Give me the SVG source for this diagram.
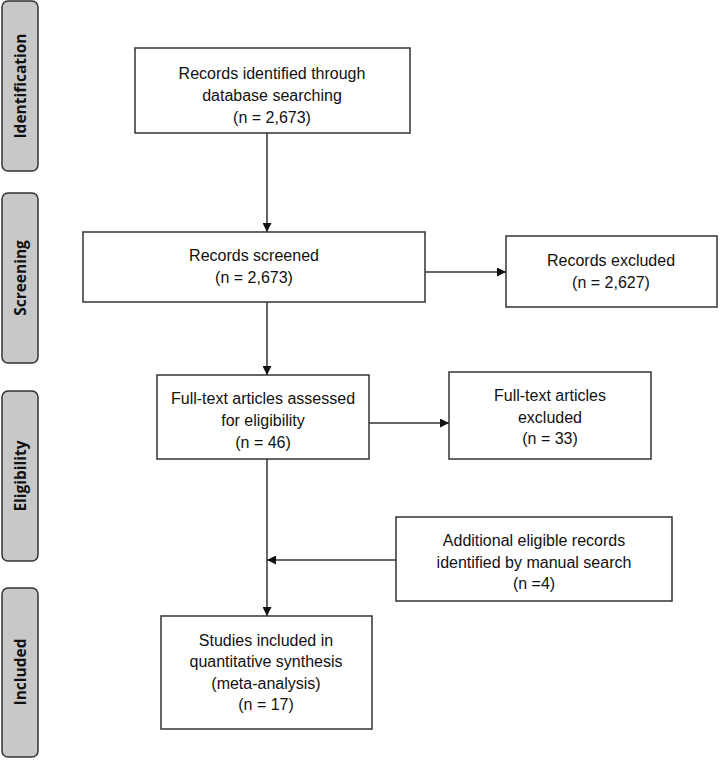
<svg xmlns="http://www.w3.org/2000/svg" width="720" height="760" viewBox="0 0 720 760">
<style>
.phase rect{fill:#c8c8c8;stroke:#333;stroke-width:1.5}
.phase text{font-family:"Open Sans","DejaVu Sans",sans-serif;font-weight:bold;font-size:15.5px;fill:#111;text-anchor:middle;dominant-baseline:central}
.box rect{fill:#fff;stroke:#333;stroke-width:1.5}
.box text{font-family:"Liberation Sans",Arial,sans-serif;font-size:16px;fill:#111;text-anchor:middle;dominant-baseline:central}
.conn path{fill:none;stroke:#333;stroke-width:1.5}
</style>
<defs>
<marker id="ah" viewBox="0 0 10 10" refX="10" refY="5" markerWidth="10" markerHeight="9" markerUnits="userSpaceOnUse" orient="auto">
<path d="M0,0 L10,5 L0,10 z" fill="#111"/>
</marker>
</defs>
<rect width="720" height="760" fill="#fff"/>
<g id="phase-identification" class="phase"><rect x="2" y="1" width="36" height="170" rx="6"/><text transform="translate(20,86) rotate(-90)">Identification</text></g>
<g id="phase-screening" class="phase"><rect x="2" y="193" width="36" height="170" rx="6"/><text transform="translate(20,278) rotate(-90)">Screening</text></g>
<g id="phase-eligibility" class="phase"><rect x="2" y="391" width="36" height="170" rx="6"/><text transform="translate(20,476) rotate(-90)">Eligibility</text></g>
<g id="phase-included" class="phase"><rect x="2" y="588" width="36" height="169" rx="6"/><text transform="translate(20,672) rotate(-90)">Included</text></g>

<g id="identified" class="box"><rect x="135" y="48" width="275" height="85"/>
<text x="272" y="73">Records identified through</text><text x="272" y="95">database searching</text><text x="272" y="117">(n = 2,673)</text></g>
<g id="screened" class="box"><rect x="83" y="232" width="342" height="70"/>
<text x="254" y="255">Records screened</text><text x="254" y="277">(n = 2,673)</text></g>
<g id="excluded" class="box"><rect x="506" y="236" width="211" height="71"/>
<text x="611" y="260">Records excluded</text><text x="611" y="282">(n = 2,627)</text></g>
<g id="assessed" class="box"><rect x="157" y="375" width="212" height="84"/>
<text x="263" y="398">Full-text articles assessed</text><text x="263" y="420">for eligibility</text><text x="263" y="442">(n = 46)</text></g>
<g id="ft-excluded" class="box"><rect x="449" y="372" width="202" height="87"/>
<text x="550" y="395">Full-text articles</text><text x="550" y="417">excluded</text><text x="550" y="438">(n = 33)</text></g>
<g id="additional" class="box"><rect x="396" y="517" width="276" height="84"/>
<text x="534" y="540">Additional eligible records</text><text x="534" y="562">identified by manual search</text><text x="534" y="583">(n =4)</text></g>
<g id="included" class="box"><rect x="161" y="616" width="211" height="113"/>
<text x="266" y="640">Studies included in</text><text x="266" y="661">quantitative synthesis</text><text x="266" y="683">(meta-analysis)</text><text x="266" y="704">(n = 17)</text></g>

<g id="connectors" class="conn">
<path d="M267,133 V232" marker-end="url(#ah)"/>
<path d="M425,272 H506" marker-end="url(#ah)"/>
<path d="M267,302 V375" marker-end="url(#ah)"/>
<path d="M369,423 H449" marker-end="url(#ah)"/>
<path d="M267,459 V616" marker-end="url(#ah)"/>
<path d="M396,560 H267" marker-end="url(#ah)"/>
</g>
</svg>
